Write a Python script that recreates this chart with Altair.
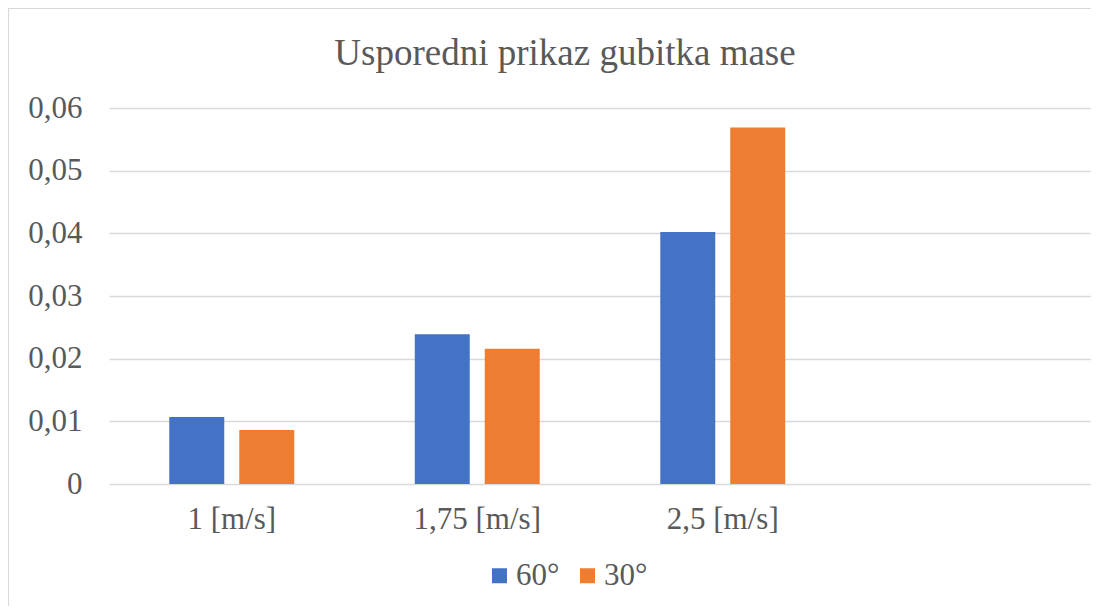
import altair as alt
import pandas as pd

categories = ["1 [m/s]", "1,75 [m/s]", "2,5 [m/s]"]
extra_slot = [" "]
series = ["60°", "30°"]
values_60 = [0.0107, 0.0239, 0.0402]
values_30 = [0.0086, 0.0216, 0.0569]
colors = ["#4472C4", "#ED7D31"]
y_ticks = [0, 0.01, 0.02, 0.03, 0.04, 0.05, 0.06]

rows = []
for c, a, b in zip(categories, values_60, values_30):
    rows.append({"brzina": c, "kut": series[0], "gubitak": a})
    rows.append({"brzina": c, "kut": series[1], "gubitak": b})
df = pd.DataFrame(rows)

FONT = "Liberation Serif"
TXT = "#595959"

bars = alt.Chart(df).mark_bar().encode(
    x=alt.X("brzina:N", sort=categories + extra_slot,
            scale=alt.Scale(domain=categories + extra_slot, paddingInner=0.491, paddingOuter=0.2455),
            axis=alt.Axis(title=None, labelAngle=0, ticks=False, domain=False, grid=False,
                          labelFont=FONT, labelFontSize=31, labelColor=TXT, labelPadding=20)),
    xOffset=alt.XOffset("kut:N", sort=series,
                        scale=alt.Scale(domain=series, paddingInner=0.2143, paddingOuter=0)),
    y=alt.Y("gubitak:Q", scale=alt.Scale(domain=[0, 0.06], nice=False),
            axis=alt.Axis(title=None, values=y_ticks, ticks=False, domain=False,
                          gridColor="#D9D9D9", gridWidth=1.3,
                          labelExpr="replace(format(datum.value, '.2~f'), '.', ',')",
                          labelFont=FONT, labelFontSize=31, labelColor=TXT, labelPadding=27)),
    color=alt.Color("kut:N", sort=series,
                    scale=alt.Scale(domain=series, range=colors),
                    legend=alt.Legend(title=None, orient="none", direction="horizontal",
                                      legendX=375, legendY=452,
                                      symbolType="square", symbolSize=225, symbolStrokeWidth=0,
                                      labelFont=FONT, labelFontSize=31, labelColor=TXT,
                                      labelOffset=1, columnPadding=12)),
)

border = alt.Chart(pd.DataFrame({"k": [0]})).mark_rect(
    fillOpacity=0, stroke="#D9D9D9", strokeWidth=1.2
).encode(x=alt.value(-100.5), x2=alt.value(1100), y=alt.value(-99.5), y2=alt.value(620))

chart = alt.layer(border, bars).properties(
    width=982, height=376,
    title=alt.TitleParams("Usporedni prikaz gubitka mase", font=FONT, fontSize=37,
                          fontWeight="normal", color=TXT, anchor="middle", dx=-35, offset=-65),
    autosize=alt.AutoSizeParams(type="none"),
    padding={"left": 101, "top": 100, "right": 0, "bottom": 122},
).configure_view(stroke=None)

chart.save("out.html", embed_options={"renderer": "svg", "actions": False})
